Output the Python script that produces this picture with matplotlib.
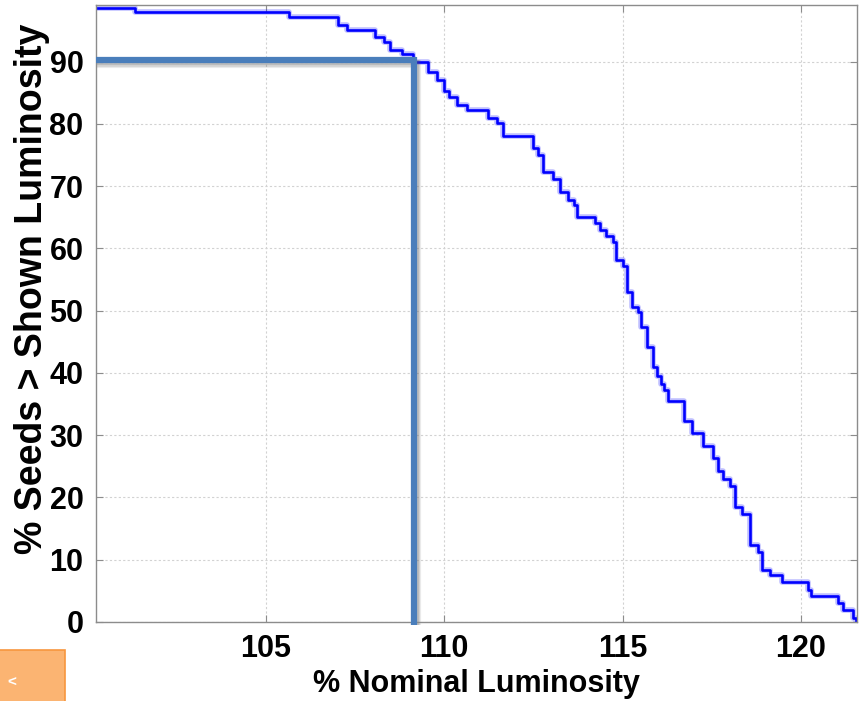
import matplotlib
matplotlib.use("Agg")
import matplotlib.pyplot as plt
from matplotlib.patches import Rectangle

# step curve: luminosity (%) where each level starts, and the level (% seeds)
lum_start = [100.24, 101.34, 105.65, 107.03, 107.27, 108.06, 108.31, 108.48, 108.82, 109.13,
             109.55, 109.80, 110.00, 110.14, 110.36, 110.64, 111.23, 111.48, 111.65, 112.49,
             112.63, 112.77, 113.05, 113.25, 113.48, 113.64, 113.73, 114.23, 114.37, 114.54,
             114.74, 114.82, 115.02, 115.13, 115.27, 115.44, 115.52, 115.69, 115.86, 115.97,
             116.08, 116.16, 116.28, 116.73, 116.95, 117.26, 117.54, 117.68, 117.82, 118.01,
             118.15, 118.35, 118.57, 118.80, 118.91, 119.14, 119.47, 120.20, 120.29, 121.04,
             121.18, 121.46, 121.55]
seeds_pct = [98.6, 98.0, 97.1, 95.9, 95.1, 94.0, 93.2, 91.9, 91.3, 90.0,
             88.4, 87.1, 85.3, 84.3, 83.1, 82.2, 81.0, 80.2, 78.1, 76.2,
             75.0, 72.2, 71.2, 69.1, 67.8, 67.0, 65.1, 64.1, 63.0, 62.0,
             61.0, 58.2, 57.2, 53.0, 50.6, 49.8, 47.3, 44.2, 40.9, 39.5,
             38.3, 37.2, 35.5, 32.3, 30.4, 28.2, 26.4, 24.2, 22.9, 21.8,
             18.4, 17.3, 12.4, 11.3, 8.4, 7.6, 6.5, 5.2, 4.1, 3.1,
             2.0, 0.7, 0.0]

x_ticks = [105, 110, 115, 120]
y_ticks = [0, 10, 20, 30, 40, 50, 60, 70, 80, 90]

# marked operating point
mark_lum = 109.14
mark_pct = 90.3

plt.rcParams['font.family'] = ['Liberation Sans', 'DejaVu Sans']

fig = plt.figure(figsize=(8.6, 7.01), dpi=100)
ax = fig.add_axes([0.1116, 0.1127, 0.8849, 0.8802])

# curve with a soft halo
ax.step(lum_start, seeds_pct, where='post', color='#0000ff', lw=4.0, alpha=0.25)
ax.step(lum_start, seeds_pct, where='post', color='#0000ff', lw=1.9)

ax.set_xlim(100.24, 121.57)
ax.set_ylim(0, 99.1)
ax.set_xticks(x_ticks)
ax.set_yticks(y_ticks)

ax.grid(True, color='#d2d2d2', lw=0.8, linestyle=(0, (2, 2)))
for s in ax.spines.values():
    s.set_color('#8c8c8c')
    s.set_linewidth(1.0)
ax.tick_params(direction='in', length=5, color='#8c8c8c', top=True, right=True,
               labelsize=22, pad=9)
for lbl in ax.get_xticklabels() + ax.get_yticklabels():
    lbl.set_fontweight('bold')

ax.set_xlabel('% Nominal Luminosity', fontsize=22, fontweight='bold', labelpad=3)
ax.set_ylabel('% Seeds > Shown Luminosity', fontsize=27, fontweight='bold')
ax.yaxis.set_label_coords(-0.060, 0.54)

# slide annotation: lines with a faint shadow
x0 = ax.get_xlim()[0]
for off, a in [(0.9, 0.10), (0.6, 0.15), (0.3, 0.2)]:
    ax.plot([x0, mark_lum + 0.06], [mark_pct - off, mark_pct - off], color='#555555',
            lw=4.5, alpha=a, clip_on=False, solid_capstyle='butt')
    ax.plot([mark_lum + 0.03 + off * 0.1, mark_lum + 0.03 + off * 0.1], [mark_pct, -0.5],
            color='#555555', lw=4.5, alpha=a, clip_on=False, solid_capstyle='butt')
ax.plot([x0, mark_lum + 0.08], [mark_pct, mark_pct], color='#4a7ebb', lw=4.5,
        clip_on=False, solid_capstyle='butt', zorder=5)
ax.plot([mark_lum, mark_lum], [mark_pct + 0.4, -0.5], color='#4a7ebb', lw=4.5,
        clip_on=False, solid_capstyle='butt', zorder=5)

# orange box in the lower left corner of the slide
fig.patches.append(Rectangle((-0.01, -0.01), 0.0856, 0.083, transform=fig.transFigure,
                             facecolor='#fbb472', edgecolor='#f7963e', lw=1.2))
fig.text(0.008, 0.02, '<', color='white', fontsize=11, fontweight='bold')

fig.savefig('out.png', dpi=100, facecolor='white')
